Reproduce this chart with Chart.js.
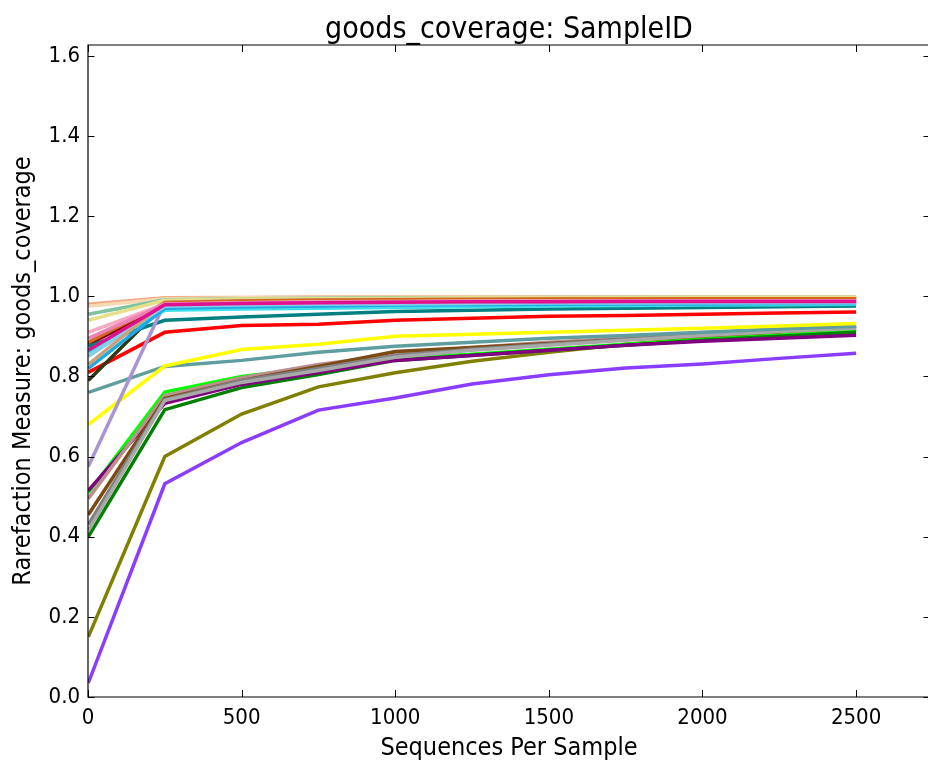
<!DOCTYPE html>
<html>
<head>
<meta charset="utf-8">
<title>goods_coverage: SampleID</title>
<script src="https://cdn.jsdelivr.net/npm/chart.js@4.4.1/dist/chart.umd.min.js"></script>
<style>
  html, body { margin: 0; padding: 0; background: #fff; overflow: hidden; }
  #chart { display: block; }
</style>
</head>
<body>
<canvas id="chart" width="928" height="760"></canvas>
<script>
// rarefaction depths (x) and tick marks
const depths = [1, 250, 500, 750, 1000, 1250, 1500, 1750, 2000, 2250, 2500];
const xTicks = [0, 500, 1000, 1500, 2000, 2500];
const yTicks = [0, 0.2, 0.4, 0.6, 0.8, 1.0, 1.2, 1.4, 1.6];

// goods_coverage per sample, one array per rarefaction curve
const sLightSalmon = [0.980, 0.996, 0.997, 0.998, 0.998, 0.999, 0.999, 0.999, 0.999, 0.999, 0.999];
const sWheat       = [0.975, 0.994, 0.996, 0.997, 0.997, 0.998, 0.998, 0.998, 0.998, 0.998, 0.998];
const sSeaGreen    = [0.955, 0.991, 0.994, 0.995, 0.996, 0.996, 0.997, 0.997, 0.997, 0.997, 0.997];
const sKhaki       = [0.940, 0.990, 0.993, 0.994, 0.995, 0.996, 0.996, 0.996, 0.997, 0.997, 0.997];
const sLightPink   = [0.910, 0.981, 0.984, 0.986, 0.987, 0.988, 0.988, 0.989, 0.989, 0.989, 0.989];
const sHotPink     = [0.895, 0.980, 0.983, 0.985, 0.986, 0.987, 0.987, 0.988, 0.988, 0.988, 0.988];
const sChocolate   = [0.885, 0.984, 0.988, 0.990, 0.991, 0.992, 0.993, 0.993, 0.994, 0.994, 0.994];
const sTan         = [0.830, 0.985, 0.989, 0.991, 0.992, 0.993, 0.993, 0.994, 0.994, 0.994, 0.994];
const sMagenta     = [0.865, 0.979, 0.982, 0.984, 0.985, 0.986, 0.986, 0.987, 0.987, 0.987, 0.987];
const sSkyBlue     = [0.850, 0.975, 0.978, 0.980, 0.981, 0.982, 0.983, 0.983, 0.984, 0.984, 0.984];
const sDeepSky     = [0.820, 0.970, 0.974, 0.976, 0.978, 0.979, 0.980, 0.981, 0.981, 0.982, 0.982];
const sCyan        = [0.860, 0.965, 0.968, 0.970, 0.972, 0.974, 0.976, 0.977, 0.978, 0.979, 0.980];
const sLavender    = [0.575, 0.983, 0.988, 0.990, 0.991, 0.992, 0.993, 0.993, 0.994, 0.994, 0.994];
const sMaroon      = [0.880, 0.978, 0.980, 0.981, 0.982, 0.983, 0.983, 0.984, 0.984, 0.985, 0.985];
const sDarkOlive   = [0.790, 0.980, 0.984, 0.986, 0.987, 0.988, 0.988, 0.989, 0.989, 0.990, 0.990];
const sTeal        = [0.875, 0.940, 0.948, 0.955, 0.962, 0.965, 0.968, 0.970, 0.972, 0.974, 0.976];
const sRed         = [0.810, 0.910, 0.927, 0.930, 0.940, 0.945, 0.950, 0.952, 0.955, 0.958, 0.961];
const sYellow      = [0.680, 0.826, 0.867, 0.880, 0.900, 0.905, 0.910, 0.915, 0.920, 0.926, 0.932];
const sCadetBlue   = [0.760, 0.825, 0.840, 0.860, 0.875, 0.885, 0.895, 0.902, 0.910, 0.918, 0.925];
const sDarkGray    = [0.415, 0.740, 0.785, 0.815, 0.848, 0.865, 0.878, 0.890, 0.902, 0.912, 0.920];
const sGray        = [0.430, 0.742, 0.790, 0.820, 0.852, 0.868, 0.880, 0.893, 0.905, 0.915, 0.922];
const sBrown       = [0.455, 0.745, 0.790, 0.825, 0.862, 0.872, 0.882, 0.892, 0.902, 0.912, 0.922];
const sRosyBrown   = [0.495, 0.752, 0.797, 0.830, 0.855, 0.872, 0.885, 0.895, 0.905, 0.915, 0.925];
const sPurple      = [0.515, 0.733, 0.780, 0.810, 0.840, 0.852, 0.865, 0.878, 0.888, 0.895, 0.903];
const sGreen       = [0.400, 0.717, 0.772, 0.805, 0.840, 0.853, 0.865, 0.878, 0.890, 0.900, 0.910];
const sLime        = [0.510, 0.761, 0.800, 0.822, 0.845, 0.855, 0.868, 0.880, 0.892, 0.903, 0.915];
const sOlive       = [0.150, 0.600, 0.706, 0.774, 0.809, 0.838, 0.860, 0.880, 0.895, 0.910, 0.925];
const sViolet      = [0.035, 0.532, 0.635, 0.716, 0.746, 0.781, 0.804, 0.821, 0.831, 0.845, 0.858];

// draw order: first entries end up underneath
const curves = [
    [sMagenta, '#e0118f'], [sHotPink, '#ee82b4'], [sLightPink, '#f7a9c4'],
    [sChocolate, '#d2691e'], [sTan, '#c8a27a'], [sSkyBlue, '#87ceeb'],
    [sDeepSky, '#1fa8e6'], [sCyan, '#40e0e8'], [sKhaki, '#e6e08a'],
    [sSeaGreen, '#7fc3a0'], [sWheat, '#f5d9b0'], [sLightSalmon, '#f4a582'],
    [sLavender, '#a995d0'], [sTeal, '#008080'], [sMaroon, '#7a0000'],
    [sDarkOlive, '#2e3a14'], [sRed, '#ff0000'], [sYellow, '#ffff00'],
    [sCadetBlue, '#5f9ea0'], [sDarkGray, '#a9a9a9'], [sGray, '#808080'],
    [sBrown, '#7b4a12'], [sRosyBrown, '#bc8f8f'], [sPurple, '#800080'],
    [sGreen, '#008000'], [sLime, '#00ff00'], [sOlive, '#808000'],
    [sViolet, '#8a3cff']
];

const FONT = "'DejaVu Sans Condensed', 'DejaVu Sans', sans-serif";

// matplotlib-style frame: spines, inward ticks on every side (the right
// spine sits just past the canvas edge, so only its ticks show),
// plus the title and axis labels centred on the plot area
const frame = {
    id: 'frame',
    afterDatasetsDraw(chart) {
        const { ctx, chartArea: a, scales } = chart;
        const right = scales.x.getPixelForValue(scales.x.max);
        ctx.save();
        ctx.strokeStyle = '#000';
        ctx.lineWidth = 1.2;
        ctx.beginPath();
        ctx.moveTo(right + 2, a.top); ctx.lineTo(a.left, a.top);
        ctx.lineTo(a.left, a.bottom); ctx.lineTo(right + 2, a.bottom);
        ctx.stroke();
        ctx.lineWidth = 1;
        ctx.beginPath();
        xTicks.forEach(v => {
            const px = Math.round(scales.x.getPixelForValue(v)) + 0.5;
            ctx.moveTo(px, a.bottom); ctx.lineTo(px, a.bottom - 7);
            ctx.moveTo(px, a.top); ctx.lineTo(px, a.top + 7);
        });
        yTicks.forEach(v => {
            const py = Math.round(scales.y.getPixelForValue(v)) + 0.5;
            ctx.moveTo(a.left, py); ctx.lineTo(a.left + 6.5, py);
            ctx.moveTo(right + 2, py); ctx.lineTo(right - 4.5, py);
        });
        ctx.stroke();

        const cx = 509;
        const cy = (a.top + a.bottom) / 2;
        ctx.fillStyle = '#000';
        ctx.textAlign = 'center';
        ctx.textBaseline = 'alphabetic';
        ctx.font = '30px ' + FONT;
        ctx.fillText('goods_coverage: SampleID', cx, 38);
        ctx.font = '25px ' + FONT;
        ctx.fillText('Sequences Per Sample', cx, 755);
        ctx.translate(30, cy);
        ctx.rotate(-Math.PI / 2);
        ctx.fillText('Rarefaction Measure: goods_coverage', 0, 0);
        ctx.restore();
    }
};

new Chart(document.getElementById('chart'), {
    type: 'line',
    data: {
        datasets: curves.map(([vals, color]) => ({
            data: vals.map((v, i) => ({ x: depths[i], y: v })),
            borderColor: color,
            borderWidth: 3.5,
            pointRadius: 0,
            tension: 0,
            fill: false
        }))
    },
    options: {
        responsive: false,
        animation: false,
        layout: { padding: { top: 45, right: 0 } },
        plugins: {
            legend: { display: false },
            tooltip: { enabled: false }
        },
        scales: {
            x: {
                type: 'linear',
                min: 0,
                max: 2734,
                afterFit: s => { s.height = 63; },
                afterBuildTicks: s => { s.ticks = xTicks.map(v => ({ value: v })); },
                grid: { display: false, drawTicks: false },
                border: { display: false },
                ticks: {
                    color: '#000',
                    font: { family: FONT, size: 22 },
                    padding: 8,
                    maxRotation: 0,
                    callback: v => String(v)
                }
            },
            y: {
                type: 'linear',
                min: 0,
                max: 1.627,
                afterFit: s => { s.width = 88; },
                afterBuildTicks: s => { s.ticks = yTicks.map(v => ({ value: v })); },
                grid: { display: false, drawTicks: false },
                border: { display: false },
                ticks: {
                    color: '#000',
                    font: { family: FONT, size: 22 },
                    padding: 8,
                    callback: v => v.toFixed(1)
                }
            }
        }
    },
    plugins: [frame]
});
</script>
</body>
</html>
